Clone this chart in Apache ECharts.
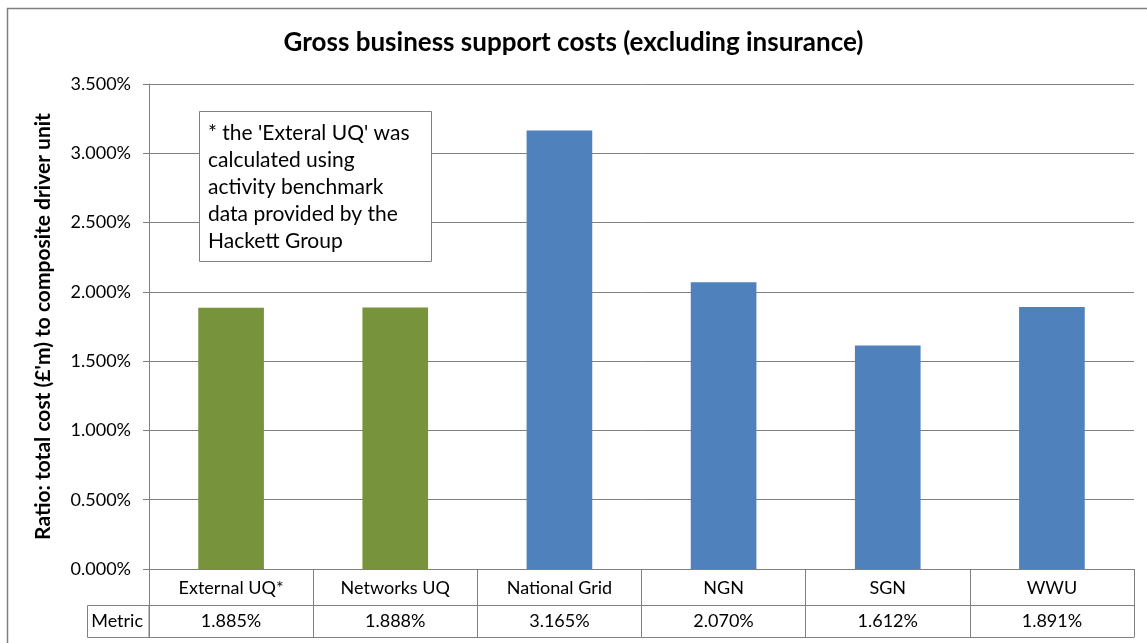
<!DOCTYPE html>
<html>
<head>
<meta charset="utf-8">
<script src="https://cdn.jsdelivr.net/npm/echarts@6/dist/echarts.min.js"></script>
<style>
html,body{margin:0;padding:0;background:#fff;}
#chart{width:1147px;height:643px;}
</style>
</head>
<body>
<div id="chart"></div>
<script>
var categories = ['External UQ*', 'Networks UQ', 'National Grid', 'NGN', 'SGN', 'WWU'];
var values = [1.885, 1.888, 3.165, 2.070, 1.612, 1.891];
var barColors = ['#77933C', '#77933C', '#4F81BD', '#4F81BD', '#4F81BD', '#4F81BD'];
var yTicks = { min: 0, max: 3.5, interval: 0.5 };
var titleText = 'Gross business support costs (excluding insurance)';
var yAxisTitle = "Ratio: total cost (£'m) to composite driver unit";
var noteLines = ["* the 'Exteral UQ' was", 'calculated using', 'activity benchmark', 'data provided by the', 'Hackett Group'];
var tableRowLabel = 'Metric';

var FONT = 'Lato, "Open Sans", sans-serif';
var GRAY = '#808080';
var chart = echarts.init(document.getElementById('chart'));

var gridL = 149, gridR = 13, gridT = 84, gridB = 74;

var option = {
  backgroundColor: '#fff',
  animation: false,
  title: {
    text: titleText, left: 'center', top: 25,
    textStyle: { fontFamily: FONT, fontSize: 26, fontWeight: 'bold', color: '#000' }
  },
  grid: { left: gridL, right: gridR, top: gridT, bottom: gridB },
  xAxis: [
    {
      type: 'category', data: categories, position: 'bottom',
      axisLine: { lineStyle: { color: GRAY, width: 1 } },
      axisTick: { show: true, length: 68, lineStyle: { color: GRAY } },
      axisLabel: { color: '#000', fontFamily: FONT, fontSize: 18, margin: 10 }
    },
    {
      type: 'category', data: categories, position: 'bottom', offset: 36,
      axisLine: { show: true, lineStyle: { color: GRAY, width: 1 } },
      axisTick: { show: false },
      axisLabel: {
        color: '#000', fontFamily: FONT, fontSize: 18, margin: 7,
        formatter: function (v, i) { return values[i].toFixed(3) + '%'; }
      },
      name: tableRowLabel, nameLocation: 'start', nameGap: 6,
      nameTextStyle: { color: '#000', fontFamily: FONT, fontSize: 18, verticalAlign: 'top', padding: [7, 0, 0, 0] }
    },
    {
      type: 'category', data: categories, position: 'bottom', offset: 68,
      axisLine: { show: true, lineStyle: { color: GRAY, width: 1 } },
      axisTick: { show: false },
      axisLabel: { show: false }
    }
  ],
  yAxis: {
    type: 'value', min: yTicks.min, max: yTicks.max, interval: yTicks.interval,
    name: yAxisTitle, nameLocation: 'middle', nameGap: 95, nameRotate: 90,
    nameTextStyle: { color: '#000', fontFamily: FONT, fontSize: 21, fontWeight: 'bold' },
    axisLine: { show: true, lineStyle: { color: GRAY } },
    axisTick: { show: true, length: 6, lineStyle: { color: GRAY } },
    axisLabel: { color: '#000', fontFamily: FONT, fontSize: 18, margin: 18,
      formatter: function (v) { return v.toFixed(3) + '%'; } },
    splitLine: { show: true, lineStyle: { color: GRAY, width: 1 } }
  },
  series: [{
    type: 'bar', xAxisIndex: 0,
    data: values.map(function (v, i) { return { value: v, itemStyle: { color: barColors[i] } }; }),
    barWidth: '40%'
  }],
  graphic: [
    { type: 'rect', shape: { x: 7.5, y: 8.5, width: 1150, height: 650 }, style: { fill: 'none', stroke: GRAY, lineWidth: 1.5 }, silent: true },
    { type: 'rect', shape: { x: 87.5, y: 605.5, width: 61.5, height: 32 }, style: { fill: 'none', stroke: GRAY, lineWidth: 1 }, silent: true },
    { type: 'rect', shape: { x: 199.5, y: 111.5, width: 232, height: 150 }, style: { fill: '#fff', stroke: GRAY, lineWidth: 1 }, z: 100, silent: true },
    { type: 'text', left: 208, top: 120, z: 101, silent: true,
      style: { text: noteLines.join('\n'), font: '21px ' + FONT, fill: '#000', lineHeight: 27 } }
  ]
};
chart.setOption(option);
</script>
</body>
</html>
